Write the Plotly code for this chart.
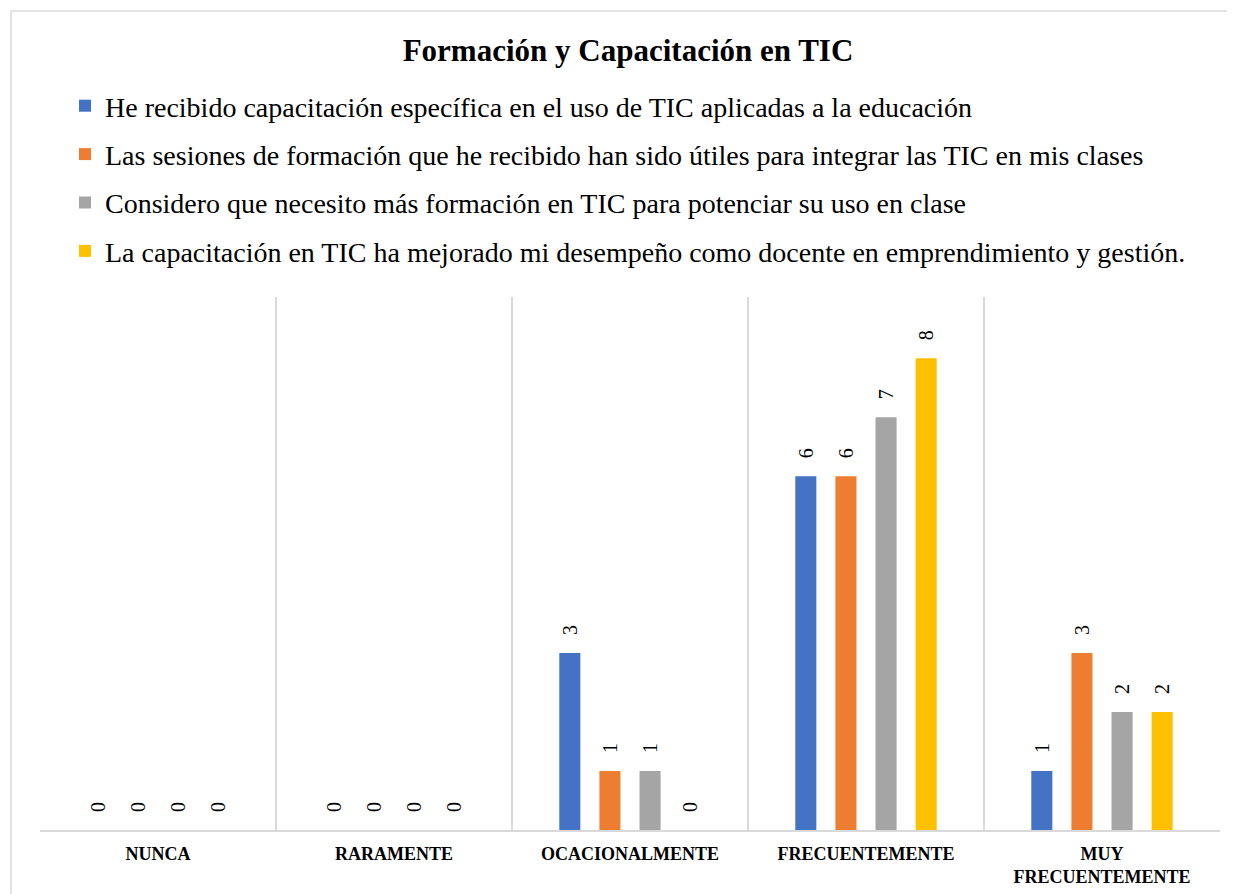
import plotly.graph_objects as go

categories = ["NUNCA", "RARAMENTE", "OCACIONALMENTE", "FRECUENTEMENTE", "MUY<br>FRECUENTEMENTE"]
series_names = [
    "He recibido capacitación específica en el uso de TIC aplicadas a la educación",
    "Las sesiones de formación que he recibido han sido útiles para integrar las TIC en mis clases",
    "Considero que necesito más formación en TIC para potenciar su uso en clase",
    "La capacitación en TIC ha mejorado mi desempeño como docente en emprendimiento y gestión.",
]
values_s1 = [0, 0, 3, 6, 1]
values_s2 = [0, 0, 1, 6, 3]
values_s3 = [0, 0, 1, 7, 2]
values_s4 = [0, 0, 0, 8, 2]
colors = ["#4472C4", "#ED7D31", "#A5A5A5", "#FFC000"]

FONT = "Liberation Serif"

fig = go.Figure()
for i, (name, vals) in enumerate(zip(series_names, [values_s1, values_s2, values_s3, values_s4])):
    fig.add_trace(go.Bar(
        x=categories, y=vals, name=name,
        marker=dict(color=colors[i], line=dict(width=0)),
        text=["\u00a0\u00a0\u00a0" + str(v) for v in vals], textposition="outside", textangle=-90,
        constraintext="none",
        textfont=dict(family=FONT, size=20, color="#000000"),
        cliponaxis=False, legendgroup=f"g{i}",
    ))

# page is offset by 8px body margin -> figure 1227x886
fig.update_layout(
    width=1227, height=886,
    paper_bgcolor="white", plot_bgcolor="white",
    margin=dict(l=32, r=15, t=289, b=64, autoexpand=False),
    barmode="group", bargap=0.32, bargroupgap=0.475,
    title=dict(text="<b>Formación y Capacitación en TIC</b>", x=(628 - 8) / 1227, xanchor="center",
               y=1 - (50 - 8) / 886, yanchor="middle",
               font=dict(family=FONT, size=31, color="#000000")),
    legend=dict(x=(65 - 40) / 1180, y=(830 - 81) / 533, xanchor="left", yanchor="top", orientation="v",
                font=dict(family=FONT, size=28, color="#000000"),
                tracegroupgap=9, bgcolor="rgba(0,0,0,0)", itemwidth=30),
    showlegend=True,
)
fig.update_xaxes(
    type="category", tickson="boundaries", showgrid=True, gridcolor="#D9D9D9", gridwidth=2,
    showline=True, linecolor="#D9D9D9", linewidth=2, ticks="",
    tickfont=dict(family=FONT, size=18, color="#000000", weight="bold"),
    tickangle=0, ticklabelstandoff=6, automargin=False,
)
fig.update_yaxes(range=[0, 9.04], visible=False, showgrid=False, zeroline=False, automargin=False)

fig.add_shape(type="rect", xref="paper", yref="paper",
              x0=(11 - 40) / 1180, x1=(1245 - 40) / 1180,
              y0=(830 - 905) / 533, y1=(830 - 11) / 533,
              line=dict(color="#D9D9D9", width=1.5), fillcolor="rgba(0,0,0,0)", layer="below")

fig.write_html("out.html")
